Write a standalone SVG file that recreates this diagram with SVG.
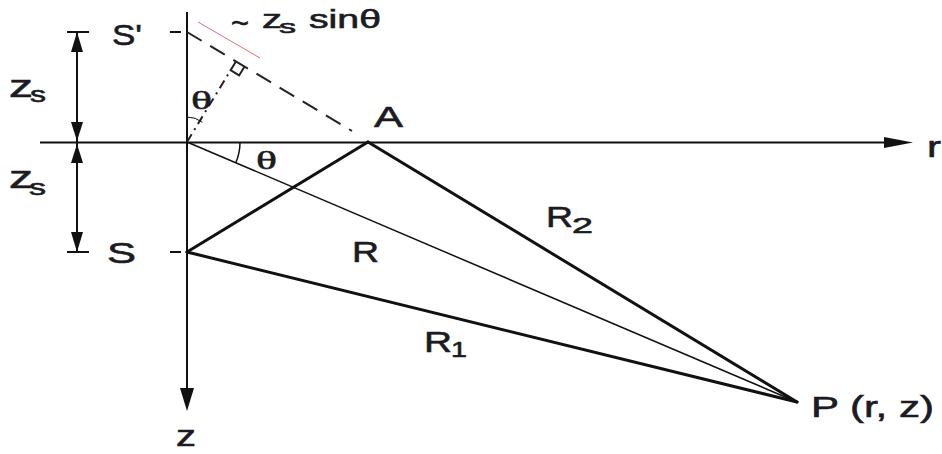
<svg xmlns="http://www.w3.org/2000/svg" width="942" height="454" viewBox="0 0 942 454">
<style>
.t{font-family:"Liberation Sans",Arial,sans-serif;fill:#1b1b22;stroke:#1b1b22;stroke-width:0.6}
.g{font-family:"Liberation Serif","Times New Roman",serif;fill:#1b1b22;stroke:#1b1b22;stroke-width:0.5}
.ax{stroke:#111;stroke-width:2;fill:none}
.thick{stroke:#111;stroke-width:3;fill:none;stroke-linecap:round}
.thin{stroke:#111;stroke-width:1.5;fill:none}
.dash{stroke:#222;stroke-width:2;fill:none;stroke-dasharray:17 10}
.dd{stroke:#222;stroke-width:2;fill:none;stroke-dasharray:9 5 2 5}
.head{fill:#111}
</style>
<rect width="942" height="454" fill="#fff"/>
<g id="connectors">
  <line class="ax" x1="187" y1="12" x2="187" y2="392"/>
  <polygon class="head" points="180,388 194,388 187,411"/>
  <line class="ax" x1="40" y1="142.5" x2="888" y2="142.5"/>
  <polygon class="head" points="884,137 884,148 913,142.5"/>
  <line class="ax" x1="170" y1="32" x2="181" y2="32"/>
  <line class="ax" x1="170" y1="252" x2="181" y2="252"/>
  <line class="ax" x1="77" y1="32" x2="77" y2="252"/>
  <line class="ax" x1="67" y1="32" x2="89" y2="32"/>
  <line class="ax" x1="67" y1="252" x2="89" y2="252"/>
  <polygon class="head" points="77,32 71,52 83,52"/>
  <polygon class="head" points="77,141 71,122 83,122"/>
  <polygon class="head" points="77,144 71,163 83,163"/>
  <polygon class="head" points="77,252 71,232 83,232"/>
  <line class="thick" x1="187" y1="252" x2="368" y2="142"/>
  <line class="thick" x1="368" y1="142" x2="797" y2="402"/>
  <line class="thick" x1="187" y1="252" x2="797" y2="402"/>
  <line class="thin" x1="187" y1="142" x2="797" y2="402"/>
  <line class="dash" x1="187" y1="32" x2="352" y2="131"/>
  <line class="dd" x1="187" y1="142" x2="230.6" y2="70.2"/>
  <polyline points="235.8,61.7 230.6,70.2 239.1,75.4 244.3,66.9" fill="none" stroke="#222" stroke-width="2"/>
  <line x1="198" y1="22" x2="260" y2="58" stroke="#e0707e" stroke-width="1"/>
  <path class="thin" d="M240,142.5 A53,53 0 0 1 235.8,162.8"/>
  <path d="M187,117 A25,25 0 0 1 202.4,122.3" fill="none" stroke="#111" stroke-width="1"/>
</g>
<g id="S-prime"><text class="t" x="112" y="45" font-size="30" textLength="30" lengthAdjust="spacingAndGlyphs">S'</text></g>
<g id="zs-top"><text class="t" x="9" y="97" font-size="32" textLength="24" lengthAdjust="spacingAndGlyphs">z</text><text class="t" x="30" y="102" font-size="22" textLength="16" lengthAdjust="spacingAndGlyphs">s</text></g>
<g id="zs-bottom"><text class="t" x="9" y="188" font-size="32" textLength="24" lengthAdjust="spacingAndGlyphs">z</text><text class="t" x="29" y="195" font-size="22" textLength="17" lengthAdjust="spacingAndGlyphs">s</text></g>
<g id="S"><text class="t" x="107" y="263" font-size="30" textLength="29" lengthAdjust="spacingAndGlyphs">S</text></g>
<g id="A"><text class="t" x="374" y="127" font-size="30" textLength="29" lengthAdjust="spacingAndGlyphs">A</text></g>
<g id="R2"><text class="t" x="546" y="227" font-size="30" textLength="27" lengthAdjust="spacingAndGlyphs">R</text><text class="t" x="572" y="233" font-size="22" textLength="21" lengthAdjust="spacingAndGlyphs">2</text></g>
<g id="R"><text class="t" x="352" y="262" font-size="30" textLength="27" lengthAdjust="spacingAndGlyphs">R</text></g>
<g id="R1"><text class="t" x="424" y="352" font-size="30" textLength="28" lengthAdjust="spacingAndGlyphs">R</text><text class="t" x="451" y="357" font-size="22" textLength="16" lengthAdjust="spacingAndGlyphs">1</text></g>
<g id="P"><text class="t" x="811" y="417" font-size="30" textLength="123" lengthAdjust="spacingAndGlyphs">P (r, z)</text></g>
<g id="z-axis-label"><text class="t" x="176" y="446" font-size="30" textLength="20" lengthAdjust="spacingAndGlyphs">z</text></g>
<g id="r-axis-label"><text class="t" x="927" y="157" font-size="30" textLength="14" lengthAdjust="spacingAndGlyphs">r</text></g>
<g id="zs-sin"><text class="t" x="231" y="33" font-size="30" textLength="18" lengthAdjust="spacingAndGlyphs">~</text><text class="t" x="262" y="28" font-size="26" textLength="20" lengthAdjust="spacingAndGlyphs">z</text><text class="t" x="279" y="33" font-size="19" textLength="17" lengthAdjust="spacingAndGlyphs">s</text><text class="t" x="309" y="28" font-size="26" textLength="72" lengthAdjust="spacingAndGlyphs">sinθ</text></g>
<g id="theta-top"><text class="g" x="191" y="109" font-size="26" textLength="21" lengthAdjust="spacingAndGlyphs">θ</text></g>
<g id="theta-bottom"><text class="g" x="256" y="169" font-size="26" textLength="21" lengthAdjust="spacingAndGlyphs">θ</text></g>
</svg>
